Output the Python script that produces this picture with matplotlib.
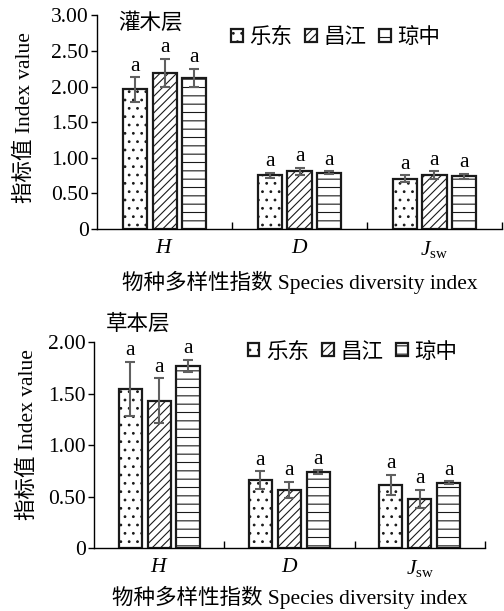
import matplotlib
matplotlib.use("Agg")
import matplotlib.pyplot as plt
import numpy as np
from matplotlib.ticker import FuncFormatter, FixedLocator

plt.rcParams['font.family'] = ['Liberation Serif', 'Noto Sans CJK SC']
plt.rcParams['hatch.linewidth'] = 0.8
plt.rcParams['mathtext.fontset'] = 'custom'
plt.rcParams['mathtext.rm'] = 'Liberation Serif'
plt.rcParams['mathtext.it'] = 'Liberation Serif:italic'

indices = ['$H$', '$D$', '$J_{\\rm sw}$']
sites = ['乐东', '昌江', '琼中']
hatches = ['..', '////', '--']

shrub_vals = {'乐东': [1.96, 0.755, 0.71], '昌江': [2.19, 0.81, 0.755], '琼中': [2.12, 0.79, 0.74]}
shrub_err = {'乐东': [0.17, 0.035, 0.045], '昌江': [0.20, 0.05, 0.055], '琼中': [0.13, 0.02, 0.04]}
herb_vals = {'乐东': [1.547, 0.663, 0.615], '昌江': [1.43, 0.563, 0.479], '琼中': [1.77, 0.738, 0.634]}
herb_err = {'乐东': [0.26, 0.085, 0.095], '昌江': [0.22, 0.08, 0.085], '琼中': [0.06, 0.016, 0.013]}
sig_letters = ['a', 'a', 'a']

fig = plt.figure(figsize=(5.04, 6.11), dpi=100)
ax1 = fig.add_axes([0.1925, 0.625, 0.8035, 0.35])
ax2 = fig.add_axes([0.1865, 0.103, 0.7755, 0.337])

FS = 15.5

def draw(ax, vals, errs, ymax, yticks, title, title_xy, leg_anchor, letter_pad, xlpad, ylcoords):
    x = np.arange(len(indices))
    w = 0.178
    offs = [-0.222, 0, 0.222]
    for i, s in enumerate(sites):
        ax.bar(x + offs[i], vals[s], width=w, facecolor='white', edgecolor='#1a1a1a',
               hatch=hatches[i], linewidth=1.6, label=s, zorder=2)
        ax.errorbar(x + offs[i], vals[s], yerr=errs[s], fmt='none', ecolor='#606060',
                    elinewidth=1.5, capsize=3.3, capthick=1.5, zorder=3)
        for j in range(len(indices)):
            ax.text(x[j] + offs[i], vals[s][j] + errs[s][j] + letter_pad, sig_letters[i],
                    ha='center', va='bottom', fontsize=FS)
    ax.set_xlim(-0.5, 2.5)
    ax.set_ylim(0, ymax)
    ax.set_yticks(yticks)
    ax.yaxis.set_major_formatter(FuncFormatter(lambda v, p: '0' if v == 0 else f'{v:.2f}'))
    ax.set_xticks(x)
    ax.set_xticklabels(indices, fontsize=FS)
    ax.xaxis.set_minor_locator(FixedLocator([0.5, 1.5, 2.5]))
    ax.tick_params(axis='x', which='major', length=0, pad=7)
    ax.tick_params(axis='x', which='minor', direction='in', length=5, width=1)
    ax.tick_params(axis='y', direction='out', length=4, width=1, labelsize=FS, pad=2)
    for sp in ['top', 'right']:
        ax.spines[sp].set_visible(False)
    for sp in ['left', 'bottom']:
        ax.spines[sp].set_linewidth(1.0)
    ax.set_ylabel('指标值 Index value', fontsize=FS)
    ax.yaxis.set_label_coords(*ylcoords)
    ax.set_xlabel('物种多样性指数 Species diversity index', fontsize=FS, labelpad=xlpad)
    fig.text(title_xy[0], title_xy[1], title, fontsize=FS, ha='left', va='center')
    ax.legend(loc='center left', bbox_to_anchor=leg_anchor, bbox_transform=fig.transFigure,
              ncol=3, frameon=False, fontsize=FS, handlelength=0.55, handleheight=0.55,
              handletextpad=0.3, columnspacing=0.6, borderpad=0)

draw(ax1, shrub_vals, shrub_err, 3.0, [0, 0.5, 1.0, 1.5, 2.0, 2.5, 3.0],
     '灌木层', (0.234, 0.962), (0.437, 0.938), 0.02, 8, (-0.152, 0.523))
draw(ax2, herb_vals, herb_err, 2.0, [0, 0.5, 1.0, 1.5, 2.0],
     '草本层', (0.21, 0.468), (0.47, 0.423), 0.015, 5, (-0.143, 0.549))

fig.savefig('out.png', dpi=100)
